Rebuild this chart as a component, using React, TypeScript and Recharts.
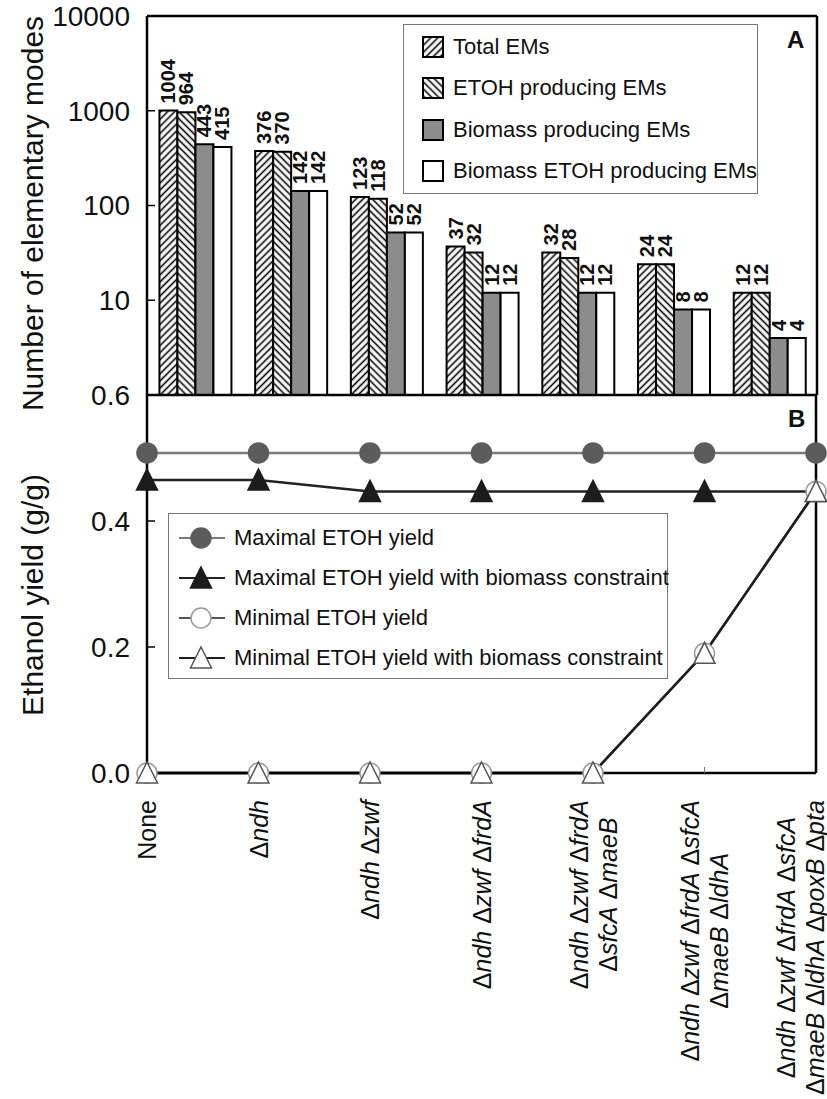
import React from 'react';
import { BarChart, Bar, XAxis, YAxis, LabelList, Legend, LineChart, Line } from 'recharts';

const FONT = "'Liberation Sans', Arial, Helvetica, sans-serif";

// ---------- data ----------
const strains = [
  'None',
  'Δndh',
  'Δndh Δzwf',
  'Δndh Δzwf ΔfrdA',
  'Δndh Δzwf ΔfrdA ΔsfcA ΔmaeB',
  'Δndh Δzwf ΔfrdA ΔsfcA ΔmaeB ΔldhA',
  'Δndh Δzwf ΔfrdA ΔsfcA ΔmaeB ΔldhA ΔpoxB Δpta',
];
const strainLabelLines: string[][] = [
  ['None'],
  ['Δndh'],
  ['Δndh Δzwf'],
  ['Δndh Δzwf ΔfrdA'],
  ['Δndh Δzwf ΔfrdA', 'ΔsfcA ΔmaeB'],
  ['Δndh Δzwf ΔfrdA ΔsfcA', 'ΔmaeB ΔldhA'],
  ['Δndh Δzwf ΔfrdA ΔsfcA', 'ΔmaeB ΔldhA ΔpoxB Δpta'],
];

const totalEMs = [1004, 376, 123, 37, 32, 24, 12];
const etohEMs = [964, 370, 118, 32, 28, 24, 12];
const biomassEMs = [443, 142, 52, 12, 12, 8, 4];
const biomassEtohEMs = [415, 142, 52, 12, 12, 8, 4];

const maxYield = [0.508, 0.508, 0.508, 0.508, 0.508, 0.508, 0.508];
const maxYieldBiomass = [0.465, 0.465, 0.447, 0.447, 0.447, 0.447, 0.447];
const minYield = [0, 0, 0, 0, 0, 0.19, 0.447];
const minYieldBiomass = [0, 0, 0, 0, 0, 0.19, 0.447];

const countTicks = [1, 10, 100, 1000, 10000];
const yieldTicks = [0, 0.2, 0.4, 0.6];

const barSeries = [
  { key: 'total', name: 'Total EMs', fill: 'url(#hatchUp)' },
  { key: 'etoh', name: 'ETOH producing EMs', fill: 'url(#hatchDown)' },
  { key: 'biomass', name: 'Biomass producing EMs', fill: '#8c8c8c' },
  { key: 'biomassEtoh', name: 'Biomass ETOH producing EMs', fill: '#ffffff' },
];

const lineSeries = [
  { key: 'maxYield', name: 'Maximal ETOH yield', stroke: '#7a7a7a', shape: 'circle', mFill: '#5c5c5c', mStroke: '#5c5c5c' },
  { key: 'maxYieldBiomass', name: 'Maximal ETOH yield with biomass constraint', stroke: '#222222', shape: 'triangle', mFill: '#1c1c1c', mStroke: '#1c1c1c' },
  { key: 'minYield', name: 'Minimal ETOH yield', stroke: '#555555', shape: 'circle', mFill: '#ffffff', mStroke: '#9a9a9a' },
  { key: 'minYieldBiomass', name: 'Minimal ETOH yield with biomass constraint', stroke: '#1e1e1e', shape: 'triangle', mFill: '#ffffff', mStroke: '#555555' },
];

const barData = strains.map((s, i) => ({
  strain: s,
  total: totalEMs[i],
  etoh: etohEMs[i],
  biomass: biomassEMs[i],
  biomassEtoh: biomassEtohEMs[i],
}));

const lineData = strains.map((s, i) => ({
  strain: s,
  maxYield: maxYield[i],
  maxYieldBiomass: maxYieldBiomass[i],
  minYield: minYield[i],
  minYieldBiomass: minYieldBiomass[i],
}));

// ---------- helpers ----------
let measureCtx: any = null;
function measure(text: string, font: string, size: number) {
  if (typeof document !== 'undefined') {
    if (!measureCtx) measureCtx = document.createElement('canvas').getContext('2d');
    if (measureCtx) {
      measureCtx.font = font;
      return measureCtx.measureText(text).width;
    }
  }
  return text.length * 0.55 * size;
}

function Marker({ shape, cx, cy, fill, stroke }: any) {
  if (shape === 'circle') {
    return <circle cx={cx} cy={cy} r={10} fill={fill} stroke={stroke} strokeWidth={1.5} />;
  }
  return (
    <polygon
      points={`${cx},${cy - 11} ${cx + 10.5},${cy + 10} ${cx - 10.5},${cy + 10}`}
      fill={fill}
      stroke={stroke}
      strokeWidth={1.5}
      strokeLinejoin="miter"
    />
  );
}

const makeDot = (cfg: any) => (props: any) => {
  const { cx, cy, index } = props;
  return (
    <g key={`${cfg.key}-dot-${index}`}>
      <Marker shape={cfg.shape} cx={cx} cy={cy} fill={cfg.mFill} stroke={cfg.mStroke} />
    </g>
  );
};

const BarValueLabel = (props: any) => {
  const { x, y, width, value } = props;
  const cx = Number(x) + Number(width) / 2;
  const by = Number(y) - 7;
  return (
    <text
      x={cx}
      y={by}
      transform={`rotate(-90 ${cx} ${by})`}
      textAnchor="start"
      dominantBaseline="central"
      fontSize={20}
      fontWeight="bold"
      fontFamily={FONT}
      fill="#111"
    >
      {value}
    </text>
  );
};

function renderGeneLine(line: string) {
  if (line === 'None') return [<tspan key="n">None</tspan>];
  const parts: any[] = [];
  line.split(' ').forEach((tok, i) => {
    if (i > 0) parts.push(<tspan key={`s${i}`}> </tspan>);
    if (tok.startsWith('Δ')) {
      parts.push(<tspan key={`d${i}`} fontStyle="normal">Δ</tspan>);
      parts.push(<tspan key={`g${i}`} fontStyle="italic">{tok.slice(1)}</tspan>);
    } else {
      parts.push(<tspan key={`g${i}`}>{tok}</tspan>);
    }
  });
  return parts;
}

const StrainTick = (props: any) => {
  const { x, y, payload, index } = props;
  const idx = payload && typeof payload.index === 'number' ? payload.index : index;
  const lines = strainLabelLines[idx] || [String(payload?.value ?? '')];
  const size = 25;
  const font = `italic ${size}px 'Liberation Sans', Arial, sans-serif`;
  const blockLen = Math.max(...lines.map((l) => measure(l, font, size)));
  const step = 29;
  const n = lines.length;
  let cx = Number(x);
  if (n > 1) cx = Math.min(cx, 800);
  const top = Number(y);
  return (
    <g transform={`translate(${cx}, ${top}) rotate(-90)`}>
      {lines.map((l, i) => (
        <text
          key={i}
          x={-blockLen / 2}
          y={(i - (n - 1) / 2) * step}
          textAnchor="middle"
          dominantBaseline="central"
          fontSize={size}
          fontFamily={FONT}
          fill="#111"
        >
          {renderGeneLine(l)}
        </text>
      ))}
    </g>
  );
};

const axisTitle = (text: string, dy: number) => (props: any) => {
  const vb = props.viewBox || {};
  const tx = Number(vb.x) - 55;
  const ty = Number(vb.y) + Number(vb.height) / 2 + dy;
  return (
    <text
      x={tx}
      y={ty}
      transform={`rotate(-90 ${tx} ${ty})`}
      textAnchor="middle"
      dominantBaseline="central"
      fontSize={30}
      fontFamily={FONT}
      fill="#111"
    >
      {text}
    </text>
  );
};

const BarLegend = () => (
  <div
    style={{
      boxSizing: 'border-box',
      width: '100%',
      height: '100%',
      border: '1px solid #777',
      background: '#fff',
      paddingTop: 1,
      fontFamily: FONT,
      fontSize: 22,
      color: '#111',
    }}
  >
    {barSeries.map((s) => (
      <div key={s.key} style={{ height: 41.5, display: 'flex', alignItems: 'center', paddingLeft: 18 }}>
        <svg width={22} height={22} style={{ marginRight: 9, flex: 'none' }}>
          <rect x={1} y={1} width={20} height={20} fill={s.fill} stroke="#000" strokeWidth={2} />
        </svg>
        <span style={{ whiteSpace: 'nowrap' }}>{s.name}</span>
      </div>
    ))}
  </div>
);

const LineLegend = () => (
  <div
    style={{
      boxSizing: 'border-box',
      width: '100%',
      height: '100%',
      border: '1px solid #777',
      background: '#fff',
      paddingTop: 4,
      fontFamily: FONT,
      fontSize: 22,
      color: '#111',
    }}
  >
    {lineSeries.map((s) => (
      <div key={s.key} style={{ height: 40, display: 'flex', alignItems: 'center', paddingLeft: 9 }}>
        <svg width={48} height={26} style={{ marginRight: 8, flex: 'none' }}>
          <line x1={1} y1={13} x2={47} y2={13} stroke={s.stroke} strokeWidth={2} />
          <Marker shape={s.shape} cx={23} cy={13} fill={s.mFill} stroke={s.mStroke} />
        </svg>
        <span style={{ whiteSpace: 'nowrap' }}>{s.name}</span>
      </div>
    ))}
  </div>
);

const axisLine = { stroke: '#000', strokeWidth: 2.5 };
const tickLine = { stroke: '#000', strokeWidth: 1.5 };
const xTickLine = { stroke: '#777', strokeWidth: 1 };

export default function App() {
  return (
    <div style={{ position: 'absolute', left: 0, top: 0, width: 827, height: 1099, background: '#fff', overflow: 'hidden' }}>
      <div style={{ position: 'absolute', left: 0, top: 0 }}>
        <BarChart
          width={827}
          height={425}
          data={barData}
          margin={{ top: 15, right: 9, bottom: 29, left: 87 }}
          barCategoryGap="13%"
          barGap={0}
        >
          <defs>
            <pattern id="hatchUp" patternUnits="userSpaceOnUse" width="5" height="5" patternTransform="rotate(45)">
              <rect width="5" height="5" fill="#fff" />
              <line x1="2.5" y1="0" x2="2.5" y2="5" stroke="#000" strokeWidth="1.6" />
            </pattern>
            <pattern id="hatchDown" patternUnits="userSpaceOnUse" width="5" height="5" patternTransform="rotate(-45)">
              <rect width="5" height="5" fill="#fff" />
              <line x1="2.5" y1="0" x2="2.5" y2="5" stroke="#000" strokeWidth="1.6" />
            </pattern>
          </defs>
          <XAxis dataKey="strain" height={1} tick={false} tickLine={false} axisLine={axisLine} />
          <XAxis xAxisId="top" orientation="top" dataKey="strain" height={1} tick={false} tickLine={false} axisLine={axisLine} />
          <YAxis
            type="number"
            scale="log"
            domain={[1, 10000]}
            allowDataOverflow
            ticks={countTicks}
            interval={0}
            width={60}
            tickSize={-8}
            tickMargin={25}
            tick={{ fontSize: 28, fill: '#111', fontFamily: FONT }}
            tickFormatter={(v: number) => (v === 1 ? '' : String(v))}
            axisLine={axisLine}
            tickLine={tickLine}
            label={axisTitle('Number of elementary modes', 8)}
          />
          <YAxis yAxisId="right" orientation="right" type="number" domain={[0, 1]} width={1} tick={false} tickLine={false} axisLine={axisLine} />
          <Legend
            layout="vertical"
            align="center"
            verticalAlign="middle"
            content={() => <BarLegend />}
            wrapperStyle={{ left: 403, top: 24, width: 355, height: 170, right: 'auto', bottom: 'auto' }}
          />
          {barSeries.map((s) => (
            <Bar
              key={s.key}
              dataKey={s.key}
              name={s.name}
              fill={s.fill}
              stroke="#000"
              strokeWidth={2}
              isAnimationActive={false}
            >
              <LabelList dataKey={s.key} content={BarValueLabel} />
            </Bar>
          ))}
        </BarChart>
      </div>

      <div style={{ position: 'absolute', left: 0, top: 380 }}>
        <LineChart width={827} height={719} data={lineData} margin={{ top: 15, right: 10, bottom: 26, left: 87 }}>
          <XAxis
            dataKey="strain"
            height={300}
            interval={0}
            tickSize={-6}
            tickMargin={33}
            tick={<StrainTick />}
            axisLine={axisLine}
            tickLine={xTickLine}
          />
          <YAxis
            type="number"
            domain={[0, 0.6]}
            ticks={yieldTicks}
            interval={0}
            width={60}
            tickSize={-8}
            tickMargin={25}
            tick={{ fontSize: 28, fill: '#111', fontFamily: FONT }}
            tickFormatter={(v: number) => v.toFixed(1)}
            axisLine={axisLine}
            tickLine={tickLine}
            label={axisTitle('Ethanol yield (g/g)', 11)}
          />
          <YAxis yAxisId="right" orientation="right" type="number" domain={[0, 1]} width={1} tick={false} tickLine={false} axisLine={axisLine} />
          <Legend
            layout="vertical"
            align="center"
            verticalAlign="middle"
            content={() => <LineLegend />}
            wrapperStyle={{ left: 168, top: 133, width: 500, height: 166, right: 'auto', bottom: 'auto' }}
          />
          {lineSeries.map((s) => (
            <Line
              key={s.key}
              type="linear"
              dataKey={s.key}
              name={s.name}
              stroke={s.stroke}
              strokeWidth={2.5}
              dot={makeDot(s)}
              activeDot={false}
              isAnimationActive={false}
            />
          ))}
        </LineChart>
      </div>

      <div style={{ position: 'absolute', left: 787, top: 26, fontFamily: FONT, fontWeight: 'bold', fontSize: 24, color: '#111' }}>A</div>
      <div style={{ position: 'absolute', left: 788, top: 405, fontFamily: FONT, fontWeight: 'bold', fontSize: 24, color: '#111' }}>B</div>
    </div>
  );
}
